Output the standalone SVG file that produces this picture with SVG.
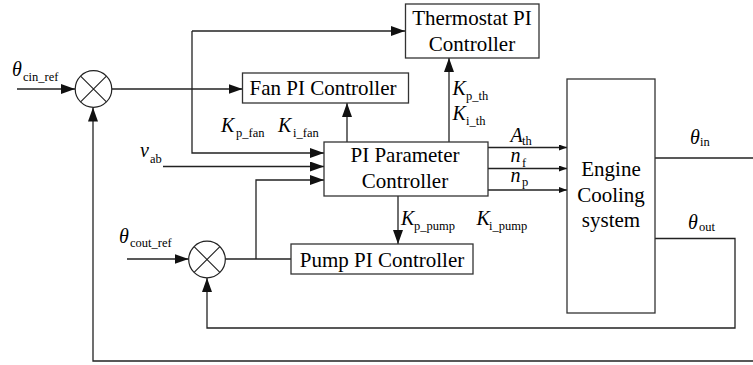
<svg xmlns="http://www.w3.org/2000/svg" width="753" height="365" viewBox="0 0 753 365">
<style>
.box{fill:#fff;stroke:#333;stroke-width:1.3}
.sum{fill:#fff;stroke:#222;stroke-width:1.2}
.x{stroke:#222;stroke-width:1.1}
.ln{fill:none;stroke:#222;stroke-width:1.3}
text{font-family:'Liberation Serif','Times New Roman',serif;fill:#000}
.t{font-size:21px;text-anchor:middle}
.m{font-size:20px;font-style:italic}
.s{font-size:12.5px}
</style>
<defs>
<marker id="a" markerUnits="userSpaceOnUse" markerWidth="14" markerHeight="10" refX="14" refY="5" orient="auto"><path d="M0,0 L14,5 L0,10 z" fill="#111"/></marker>
<marker id="b" markerUnits="userSpaceOnUse" markerWidth="8" markerHeight="6" refX="8" refY="3" orient="auto"><path d="M0,0 L8,3 L0,6 z" fill="#111"/></marker>
</defs>
<rect width="753" height="365" fill="#fff"/>

<g id="connectors">
<path class="ln" d="M17,89 H75" marker-end="url(#a)"/>
<path class="ln" d="M112,89 H242.5" marker-end="url(#a)"/>
<path class="ln" d="M192,31 H405" marker-end="url(#a)"/>
<path class="ln" d="M192,31 V153 H324" marker-end="url(#a)"/>
<path class="ln" d="M163,166.5 H324" marker-end="url(#a)"/>
<path class="ln" d="M256,259 V180 H324" marker-end="url(#a)"/>
<path class="ln" d="M225,259 H291"/>
<path class="ln" d="M127,259 H188.5" marker-end="url(#a)"/>
<path class="ln" d="M347,142 V103" marker-end="url(#a)"/>
<path class="ln" d="M449,142 V58" marker-end="url(#a)"/>
<path class="ln" d="M398,196 V244" marker-end="url(#a)"/>
<path class="ln" d="M488,147.5 H567" marker-end="url(#b)"/>
<path class="ln" d="M488,168.5 H567" marker-end="url(#b)"/>
<path class="ln" d="M488,190 H567" marker-end="url(#b)"/>
<path class="ln" d="M655,158 H753"/>
<path class="ln" d="M655,238.5 H735 V328 H207 V278" marker-end="url(#a)"/>
<path class="ln" d="M753,361 H93 V107.5" marker-end="url(#a)"/>
</g>

<g id="sum1">
<circle class="sum" cx="93.5" cy="89" r="18.3"/>
<path class="x" d="M80.6,76.1 L106.4,101.9 M106.4,76.1 L80.6,101.9"/>
</g>
<g id="sum2">
<circle class="sum" cx="207" cy="259.5" r="18.3"/>
<path class="x" d="M194.1,246.6 L219.9,272.4 M219.9,246.6 L194.1,272.4"/>
</g>

<g id="thermostat">
<rect class="box" x="405.5" y="4" width="133.5" height="54"/>
<text class="t" x="472" y="25">Thermostat PI</text>
<text class="t" x="472" y="50.5">Controller</text>
</g>
<g id="fan">
<rect class="box" x="242.5" y="73" width="166" height="30"/>
<text class="t" x="323" y="95.3">Fan PI Controller</text>
</g>
<g id="piparam">
<rect class="box" x="324" y="142" width="164" height="54"/>
<text class="t" x="405" y="162">PI Parameter</text>
<text class="t" x="405" y="188">Controller</text>
</g>
<g id="pump">
<rect class="box" x="291" y="244" width="182" height="30"/>
<text class="t" x="382" y="267">Pump PI Controller</text>
</g>
<g id="engine">
<rect class="box" x="567" y="79" width="88" height="234"/>
<text class="t" x="611" y="176">Engine</text>
<text class="t" x="611" y="201.5">Cooling</text>
<text class="t" x="611" y="227">system</text>
</g>

<g id="labels">
<text class="m" x="12" y="76">θ</text><text class="s" x="23" y="80.5">cin_ref</text>
<text class="m" x="140" y="157">v</text><text class="s" x="150" y="162.5">ab</text>
<text class="m" x="221" y="131.5">K</text><text class="s" x="236" y="136.5">p_fan</text>
<text class="m" x="278" y="131.5">K</text><text class="s" x="293" y="136.5">i_fan</text>
<text class="m" x="452.5" y="95">K</text><text class="s" x="466" y="100">p_th</text>
<text class="m" x="452.5" y="120">K</text><text class="s" x="466" y="125">i_th</text>
<text class="m" x="510.5" y="141.5">A</text><text class="s" x="522" y="144.5">th</text>
<text class="m" x="510.5" y="162">n</text><text class="s" x="522" y="166.5">f</text>
<text class="m" x="510.5" y="181.5">n</text><text class="s" x="522" y="186">p</text>
<text class="m" x="401" y="225">K</text><text class="s" x="414" y="229.5">p_pump</text>
<text class="m" x="476.5" y="225">K</text><text class="s" x="489" y="229.5">i_pump</text>
<text class="m" x="690" y="144">θ</text><text class="s" x="700" y="146">in</text>
<text class="m" x="688" y="229">θ</text><text class="s" x="699" y="231">out</text>
<text class="m" x="119" y="242.5">θ</text><text class="s" x="130" y="246.5">cout_ref</text>
</g>
</svg>
